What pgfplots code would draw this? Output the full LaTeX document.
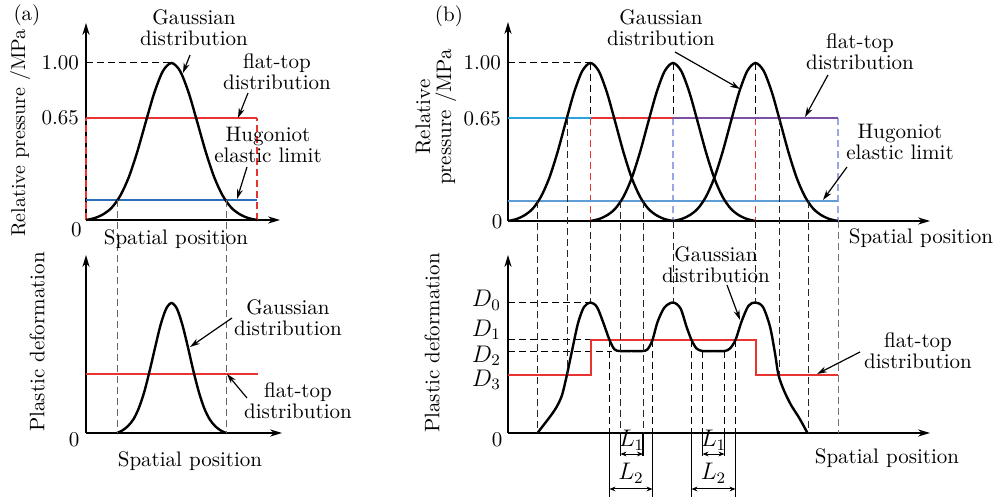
\documentclass[border=0pt]{standalone}
\usepackage{fontspec}
\usepackage{pgfplots}
\pgfplotsset{compat=1.18}
\usetikzlibrary{arrows.meta}

\definecolor{redline}{HTML}{E8332E}
\definecolor{cyanline}{HTML}{2AA3DC}
\definecolor{helA}{HTML}{2A6EBB}
\definecolor{helB}{HTML}{5F9DD6}
\definecolor{purp}{HTML}{7B4FA3}
\definecolor{lilac}{HTML}{9AA6E6}

\pgfplotsset{
  schem/.style={
    axis lines=left,
    axis line style={line width=0.7pt, -{Stealth[length=6pt,width=3.6pt]}},
    x=0.5pt, xmin=0, ymin=0,
    xtick=\empty, ytick=\empty,
    major tick length=0pt,
    tick label style={font=\fontsize{10.5}{10.5}\selectfont},
    clip=false,
    anchor=south west,
  },
  curve/.style={black, line width=1.2pt, smooth, tension=0.5},
}
\tikzset{
  dsh/.style={line width=0.5pt, dash pattern=on 3.5pt off 2pt},
  ann/.style={line width=0.6pt, -{Stealth[length=5pt,width=3pt]}},
  dim/.style={line width=0.5pt, {Stealth[length=3pt,width=2.4pt]}-{Stealth[length=3pt,width=2.4pt]}},
}

\begin{document}
\begin{tikzpicture}[font=\fontsize{10.5}{10.5}\selectfont]
\useasboundingbox (0,0) rectangle (499pt,249pt);

% ---------- (a) pressure
\begin{axis}[schem, at={(43pt,139pt)}, y=78.5pt, xmax=194, ymax=1.255,
  ytick={0.65,1}, yticklabels={0.65,1.00}]
\draw[dsh] (axis cs:0,1) -- (axis cs:85.5,1);
\addplot[redline, dsh, line width=0.7pt] coordinates {(0,0) (0,0.65)};
\addplot[redline, dsh, line width=0.7pt] coordinates {(171,0) (171,0.65)};
\addplot[helA, line width=1pt] coordinates {(0,0.127) (171,0.127)};
\addplot[redline, line width=1pt] coordinates {(0,0.65) (171,0.65)};
\addplot[curve] coordinates {
  (0,0) (8.55,0.012) (17.1,0.036) (25.65,0.078) (34.2,0.154) (42.75,0.272)
  (51.3,0.435) (59.85,0.626) (68.4,0.812) (76.95,0.949) (85.5,1)
  (94.05,0.949) (102.6,0.812) (111.15,0.626) (119.7,0.435) (128.25,0.272)
  (136.8,0.154) (145.35,0.078) (153.9,0.036) (162.45,0.012) (171,0)};
\coordinate (aT1) at (axis cs:31,0.127);
\coordinate (aT2) at (axis cs:140,0.127);
\end{axis}

% ---------- (a) deformation
\begin{axis}[schem, at={(43pt,32.5pt)}, y=65pt, xmax=196, ymax=1.369]
\addplot[redline, line width=1pt] coordinates {(0,0.454) (172,0.454)};
\addplot[curve] coordinates {
  (31,0) (36.5,0.02) (41.9,0.053) (47.4,0.105) (52.8,0.191) (58.3,0.317)
  (63.7,0.48) (69.2,0.661) (74.6,0.832) (80.1,0.955) (85.5,1)
  (91,0.955) (96.4,0.832) (101.9,0.661) (107.3,0.48) (112.8,0.317)
  (118.2,0.191) (123.7,0.105) (129.1,0.053) (134.6,0.02) (140,0)};
\coordinate (aB1) at (axis cs:31,0);
\coordinate (aB2) at (axis cs:140,0);
\end{axis}
\draw[dsh, black!60] (aT1) -- (aB1);
\draw[dsh, black!60] (aT2) -- (aB2);

% ---------- (b) pressure
\begin{axis}[schem, at={(254pt,138.5pt)}, y=79pt, xmax=422, ymax=1.259,
  ytick={0.65,1}, yticklabels={0.65,1.00}]
\draw[dsh] (axis cs:0,1) -- (axis cs:82.5,1);
\draw[dsh] (axis cs:82.5,1) -- (axis cs:82.5,0.65);
\draw[dsh] (axis cs:165,1) -- (axis cs:165,0.65);
\draw[dsh] (axis cs:247.5,1) -- (axis cs:247.5,0.65);
\draw[dsh, redline] (axis cs:82.5,0.65) -- (axis cs:82.5,0);
\draw[dsh, lilac, line width=0.8pt] (axis cs:165,0.65) -- (axis cs:165,0);
\draw[dsh, redline] (axis cs:247.5,0.65) -- (axis cs:247.5,0);
\draw[dsh, lilac, line width=0.8pt] (axis cs:330,0.65) -- (axis cs:330,0);
\addplot[helB, line width=1pt] coordinates {(0,0.127) (330,0.127)};
\addplot[cyanline, line width=1.1pt] coordinates {(0,0.65) (82.5,0.65)};
\addplot[redline, line width=1.1pt] coordinates {(82.5,0.65) (165,0.65)};
\addplot[purp, line width=1.1pt] coordinates {(165,0.65) (330,0.65)};
\addplot[curve] coordinates {
  (0,0) (8.25,0.012) (16.5,0.036) (24.75,0.078) (33,0.154) (41.25,0.272)
  (49.5,0.435) (57.75,0.626) (66,0.812) (74.25,0.949) (82.5,1)
  (90.75,0.949) (99,0.812) (107.25,0.626) (115.5,0.435) (123.75,0.272)
  (132,0.154) (140.25,0.078) (148.5,0.036) (156.75,0.012) (165,0)};
\addplot[curve] coordinates {
  (82.5,0) (90.75,0.012) (99,0.036) (107.25,0.078) (115.5,0.154) (123.75,0.272)
  (132,0.435) (140.25,0.626) (148.5,0.812) (156.75,0.949) (165,1)
  (173.25,0.949) (181.5,0.812) (189.75,0.626) (198,0.435) (206.25,0.272)
  (214.5,0.154) (222.75,0.078) (231,0.036) (239.25,0.012) (247.5,0)};
\addplot[curve] coordinates {
  (165,0) (173.25,0.012) (181.5,0.036) (189.75,0.078) (198,0.154) (206.25,0.272)
  (214.5,0.435) (222.75,0.626) (231,0.812) (239.25,0.949) (247.5,1)
  (255.75,0.949) (264,0.812) (272.25,0.626) (280.5,0.435) (288.75,0.272)
  (297,0.154) (305.25,0.078) (313.5,0.036) (321.75,0.012) (330,0)};
\coordinate (bT1) at (axis cs:29.5,0.127);
\coordinate (bT2) at (axis cs:59,0.65);
\coordinate (bT3) at (axis cs:82.5,0);
\coordinate (bT4) at (axis cs:112.5,0.127);
\coordinate (bT5) at (axis cs:135,0.127);
\coordinate (bT6) at (axis cs:165,0);
\coordinate (bT7) at (axis cs:247.5,0);
\coordinate (bT8) at (axis cs:271,0.65);
\coordinate (bT9) at (axis cs:300,0.127);
\coordinate (bT10) at (axis cs:330,0);
\end{axis}

% ---------- (b) deformation
\begin{axis}[schem, at={(254pt,32.5pt)}, y=65.25pt, xmax=422, ymax=1.364]
\draw[dsh] (axis cs:0,1) -- (axis cs:82.5,1);
\draw[dsh] (axis cs:0,0.713) -- (axis cs:82.5,0.713);
\draw[dsh] (axis cs:0,0.628) -- (axis cs:104,0.628);
% bottom-only guide lines
\draw[dsh] (axis cs:101.5,0.713) -- (axis cs:101.5,0);
\draw[dsh] (axis cs:144.5,0.713) -- (axis cs:144.5,0);
\draw[dsh] (axis cs:183.5,0.713) -- (axis cs:183.5,0);
\draw[dsh] (axis cs:227.5,0.713) -- (axis cs:227.5,0);
\draw[dsh] (axis cs:194.5,0.628) -- (axis cs:194.5,0);
\draw[dsh] (axis cs:216.5,0.628) -- (axis cs:216.5,0);
\draw[line width=0.6pt] (axis cs:101.5,0) -- (axis cs:101.5,-0.49);
\draw[line width=0.6pt] (axis cs:144.5,0) -- (axis cs:144.5,-0.49);
\draw[line width=0.6pt] (axis cs:183.5,0) -- (axis cs:183.5,-0.49);
\draw[line width=0.6pt] (axis cs:227.5,0) -- (axis cs:227.5,-0.49);
\draw[line width=0.6pt] (axis cs:112.5,0) -- (axis cs:112.5,-0.176);
\draw[line width=0.6pt] (axis cs:135,0) -- (axis cs:135,-0.176);
\draw[line width=0.6pt] (axis cs:194.5,0) -- (axis cs:194.5,-0.176);
\draw[line width=0.6pt] (axis cs:216.5,0) -- (axis cs:216.5,-0.176);
\draw[dim] (axis cs:112.5,-0.161) -- (axis cs:135,-0.161);
\draw[dim] (axis cs:194.5,-0.161) -- (axis cs:216.5,-0.161);
\draw[dim] (axis cs:101.5,-0.429) -- (axis cs:144.5,-0.429);
\draw[dim] (axis cs:183.5,-0.429) -- (axis cs:227.5,-0.429);
\node[anchor=base, inner sep=0pt, font=\fontsize{11.5}{11.5}\selectfont] at (axis cs:123.5,-0.107) {$L_1$};
\node[anchor=base, inner sep=0pt, font=\fontsize{11.5}{11.5}\selectfont] at (axis cs:205.5,-0.107) {$L_1$};
\node[anchor=base, inner sep=0pt, font=\fontsize{11.5}{11.5}\selectfont] at (axis cs:123,-0.36) {$L_2$};
\node[anchor=base, inner sep=0pt, font=\fontsize{11.5}{11.5}\selectfont] at (axis cs:205.5,-0.36) {$L_2$};
\node[anchor=base east, font=\fontsize{11.5}{11.5}\selectfont] at (axis cs:0,0.968) {$D_0$};
\node[anchor=base east, font=\fontsize{11.5}{11.5}\selectfont] at (axis cs:0,0.743) {$D_1$};
\node[anchor=base east, font=\fontsize{11.5}{11.5}\selectfont] at (axis cs:0,0.544) {$D_2$};
\node[anchor=base east, font=\fontsize{11.5}{11.5}\selectfont] at (axis cs:0,0.360) {$D_3$};
\addplot[redline, line width=1pt] coordinates {
  (0,0.444) (82.5,0.444) (82.5,0.713) (247.5,0.713) (247.5,0.444) (330,0.444)};
\addplot[curve] coordinates {
  (29.5,0) (36,0.065) (43,0.135) (49,0.205) (54,0.29) (58.5,0.431)
  (63.5,0.611) (70,0.841) (76,0.965) (82.5,1) (89,0.965) (95.5,0.841)
  (101.5,0.713) (106.5,0.641) (112,0.628) (123.5,0.628) (134.5,0.628)
  (139.5,0.641) (144.5,0.713) (149.5,0.85) (156.5,0.962) (165,1)
  (172.5,0.955) (178.5,0.815) (183.5,0.713) (188.5,0.648) (194.5,0.628)
  (205.5,0.628) (216.5,0.628) (222,0.648) (227.5,0.713) (233.5,0.853)
  (240.5,0.975) (247.5,1) (255,0.965) (262,0.815) (267,0.611) (270.5,0.444)
  (276,0.325) (283,0.215) (291,0.118) (299.5,0)};
\coordinate (bB1) at (axis cs:29.5,0);
\coordinate (bB2) at (axis cs:59,0.444);
\coordinate (bB3) at (axis cs:82.5,1);
\coordinate (bB4) at (axis cs:112.5,0);
\coordinate (bB5) at (axis cs:135,0);
\coordinate (bB6) at (axis cs:165,1);
\coordinate (bB7) at (axis cs:247.5,1);
\coordinate (bB8) at (axis cs:271,0.444);
\coordinate (bB9) at (axis cs:300,0);
\coordinate (bB10) at (axis cs:330,0);
\end{axis}
\foreach \i in {1,...,9} {\draw[dsh, black!85] (bT\i) -- (bB\i);}
\draw[dsh, black!55] (bT10) -- (bB10);

% ---------- text (pixel coordinates of the 998x498 picture)
\begin{scope}[x=0.5pt, y=-0.5pt, yshift=249pt]
\node at (27,15) {(a)};
\node at (449,16) {(b)};
\node[rotate=90, font=\fontsize{10}{10}\selectfont] at (20,133) {Relative pressure /MPa};
\node[rotate=90] at (37,342) {Plastic deformation};
\node[rotate=90, align=center] at (436,117) {Relative\\pressure /MPa};
\node[rotate=90] at (432,343) {Plastic deformation};
\node at (176,239) {Spatial position};
\node at (190,461) {Spatial position};
\node at (921,238) {Spatial position};
\node at (887,458) {Spatial position};
\node at (76.5,230) {0};
\node at (74,440) {0};
\node at (497,222) {0};
\node at (497,440) {0};
% (a) annotations
\node[align=center] at (194,28) {Gaussian\\distribution};
\draw[ann] (190,55) -- (183,73);
\node[align=center] at (277,72) {flat-top\\distribution};
\draw[ann] (248,93) -- (238,118);
\node[align=center] at (268,145) {Hugoniot\\elastic limit};
\draw[ann] (247,167) -- (237,199);
\node[align=center] at (288,318) {Gaussian\\distribution};
\draw[ann] (232,318) -- (190,347);
\node[align=center] at (298,401) {flat-top\\distribution};
\draw[ann] (247,398) -- (227,374);
% (b) annotations
\node[align=center] at (661,28) {Gaussian\\distribution};
\draw[ann] (675,52) -- (740,89);
\node[align=center] at (860,52) {flat-top\\distribution};
\draw[ann] (828,75) -- (805,117);
\node[align=center] at (900,142) {Hugoniot\\elastic limit};
\draw[ann] (847,167) -- (823,200);
\node[align=center] at (716,265) {Gaussian\\distribution};
\draw[ann] (727,285) -- (740,320);
\node[align=center] at (918,351) {flat-top\\distribution};
\draw[ann] (860,352) -- (817,374);
\end{scope}
\end{tikzpicture}
\end{document}
